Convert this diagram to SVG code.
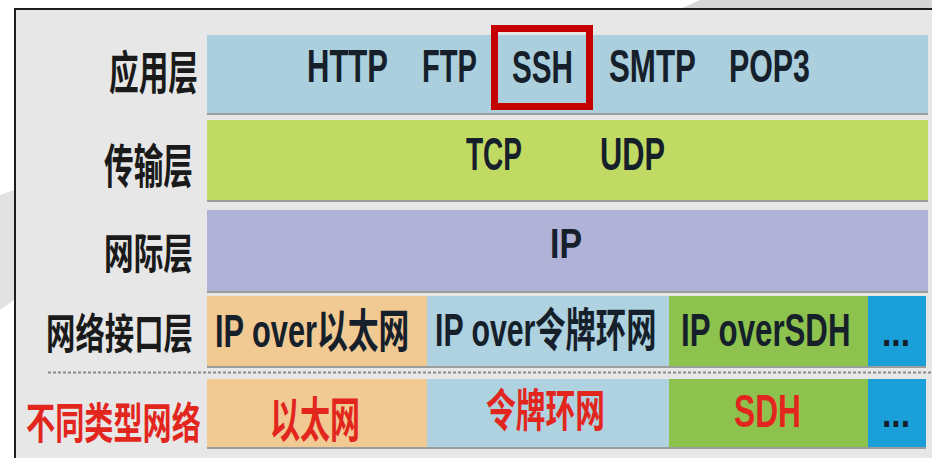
<svg xmlns="http://www.w3.org/2000/svg" width="932" height="458" viewBox="0 0 932 458">
<style>
.t{font-family:"Liberation Sans","Noto Sans CJK SC",sans-serif;font-weight:bold;fill:#15202b}
.c{font-family:"Noto Sans CJK SC","Liberation Sans",sans-serif;font-weight:bold;fill:#1a1a1a}
.r{fill:#e3261d}
.sh{fill:#9c9e9c}
</style>
<rect x="0" y="0" width="932" height="458" fill="#ffffff"/>
<polygon points="0,195 14,190 14,300 0,310" fill="#e2e2e2"/>
<polygon points="680,9 700,0 932,0 932,9" fill="#d6d6d6"/>
<rect x="15" y="9" width="917" height="449" fill="#e6e7e6"/>
<path d="M15,458 V9 H932" fill="none" stroke="#1e1e1e" stroke-width="2"/>
<g id="labels">
<text class="c" transform="translate(109,89) scale(0.645,1)" font-size="46">应用层</text>
<text class="c" transform="translate(104,183) scale(0.631,1)" font-size="47">传输层</text>
<text class="c" transform="translate(104,269) scale(0.706,1)" font-size="42">网际层</text>
<text class="c" transform="translate(46,349) scale(0.7,1)" font-size="42">网络接口层</text>
<text class="c r" transform="translate(26,439) scale(0.678,1)" font-size="43">不同类型网络</text>
</g>
<g id="application">
<rect class="sh" x="207" y="37" width="721" height="78"/>
<rect x="207" y="35" width="721" height="78" fill="#abcfdd"/>
<text class="t" transform="translate(307,82) scale(0.66,1)" font-size="47">HTTP</text>
<text class="t" transform="translate(422,82) scale(0.619,1)" font-size="47">FTP</text>
<text class="t" transform="translate(512,83) scale(0.631,1)" font-size="47" fill="#000">SSH</text>
<text class="t" transform="translate(609,82) scale(0.666,1)" font-size="47">SMTP</text>
<text class="t" transform="translate(729,82) scale(0.646,1)" font-size="47">POP3</text>
<rect x="494.5" y="28.5" width="95" height="78" fill="none" stroke="#c40000" stroke-width="7"/>
</g>
<g id="transport">
<rect class="sh" x="207" y="122" width="721" height="80"/>
<rect x="207" y="120" width="721" height="80" fill="#c0da64"/>
<text class="t" transform="translate(466,170) scale(0.609,1)" font-size="46">TCP</text>
<text class="t" transform="translate(600,170) scale(0.669,1)" font-size="46">UDP</text>
</g>
<g id="internet">
<rect class="sh" x="207" y="212" width="721" height="81"/>
<rect x="207" y="210" width="721" height="81" fill="#b0b2d8"/>
<text class="t" transform="translate(550,258) scale(0.788,1)" font-size="43">IP</text>
</g>
<g id="netif">
<rect class="sh" x="207" y="298" width="719" height="70"/>
<rect x="207" y="296" width="220" height="70" fill="#f0c993"/>
<rect x="427" y="296" width="242" height="70" fill="#aed2df"/>
<rect x="669" y="296" width="199" height="70" fill="#8dc24e"/>
<rect x="868" y="296" width="58" height="70" fill="#1b9fd8"/>
<text class="t" transform="translate(215,347) scale(0.669,1)" font-size="46">IP over以太网</text>
<text class="t" transform="translate(435,346) scale(0.658,1)" font-size="46">IP over令牌环网</text>
<text class="t" transform="translate(681,346) scale(0.679,1)" font-size="46">IP overSDH</text>
<text class="t" transform="translate(882,346) scale(0.84,1)" font-size="40" fill="#1a2b4a">...</text>
</g>
<g id="connectors">
<line x1="48" y1="372.5" x2="932" y2="372.5" stroke="#8a8a8a" stroke-width="2" stroke-dasharray="3,2"/>
</g>
<g id="networks">
<rect class="sh" x="207" y="381" width="719" height="68"/>
<rect x="207" y="379" width="220" height="68" fill="#f0c993"/>
<rect x="427" y="379" width="242" height="68" fill="#aed2df"/>
<rect x="669" y="379" width="199" height="68" fill="#8dc24e"/>
<rect x="868" y="379" width="58" height="68" fill="#1b9fd8"/>
<text class="c r" transform="translate(270,437) scale(0.625,1)" font-size="48">以太网</text>
<text class="c r" transform="translate(486,427) scale(0.661,1)" font-size="45">令牌环网</text>
<text class="t r" transform="translate(734,427) scale(0.69,1)" font-size="46">SDH</text>
<text class="t" transform="translate(882,427) scale(0.84,1)" font-size="40" fill="#4a6282">...</text>
</g>
</svg>
